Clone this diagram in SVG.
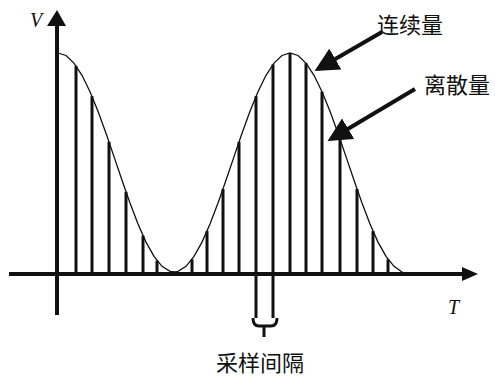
<svg xmlns="http://www.w3.org/2000/svg" width="495" height="378" viewBox="0 0 495 378">
<style>
.ax{stroke:#111;stroke-width:4;fill:none}
.s{stroke:#111;stroke-width:3;fill:none}
.c{stroke:#111;stroke-width:1.3;fill:none}
.ar{stroke:#111;stroke-width:4;fill:none}
.lbl{font-family:"Liberation Serif","Noto Sans CJK SC",serif;font-size:22px;fill:#111}
.it{font-family:"Liberation Serif",serif;font-style:italic;font-size:20px;fill:#111}
</style>
<defs>
<marker id="ah" markerWidth="6" markerHeight="6" refX="5" refY="3" orient="auto" markerUnits="strokeWidth">
<path d="M0,0 L6,3 L0,6 Z" fill="#111"/>
</marker>
</defs>
<rect width="495" height="378" fill="#fff"/>
<g id="axes">
<line class="ax" x1="57" y1="315" x2="57" y2="24" stroke-width="5"/>
<path d="M47,26 L57,10 L66,26 Z" fill="#111"/>
<line class="ax" x1="9" y1="274" x2="464" y2="274"/>
<path d="M462,267 L478,274 L462,281 Z" fill="#111"/>
</g>
<g id="samples">
<line class="s" x1="76" y1="65.7" x2="76" y2="274"/>
<line class="s" x1="92" y1="96.2" x2="92" y2="274"/>
<line class="s" x1="109" y1="141.8" x2="109" y2="274"/>
<line class="s" x1="126" y1="191.8" x2="126" y2="274"/>
<line class="s" x1="143" y1="235.6" x2="143" y2="274"/>
<line class="s" x1="157" y1="260.6" x2="157" y2="274"/>
<line class="s" x1="192" y1="259.3" x2="192" y2="274"/>
<line class="s" x1="207" y1="231.1" x2="207" y2="274"/>
<line class="s" x1="223" y1="189" x2="223" y2="274"/>
<line class="s" x1="239" y1="141.8" x2="239" y2="274"/>
<line class="s" x1="256" y1="96.2" x2="256" y2="318"/>
<line class="s" x1="273" y1="64.4" x2="273" y2="318"/>
<line class="s" x1="290" y1="53" x2="290" y2="274"/>
<line class="s" x1="306" y1="63.1" x2="306" y2="274"/>
<line class="s" x1="322" y1="91.7" x2="322" y2="274"/>
<line class="s" x1="340" y1="139" x2="340" y2="274"/>
<line class="s" x1="357" y1="189" x2="357" y2="274"/>
<line class="s" x1="373" y1="231.1" x2="373" y2="274"/>
<line class="s" x1="388" y1="259.3" x2="388" y2="274"/>
</g>
<g id="curve">
<polyline class="c" points="58,53 66,55.5 74,63.1 82,75.3 90,91.7 98,111.3 106,133.2 114,156.6 122,180.2 130,203 138,223.9 146,242.1 154,256.4 162,266.3 170,271.4 175,272 178,271.4 186,266.3 194,256.4 202,242.1 210,223.9 218,203 226,180.2 234,156.6 242,133.2 250,111.3 258,91.7 266,75.3 274,63.1 282,55.5 290,53 298,55.5 306,63.1 314,75.3 322,91.7 330,111.3 338,133.2 346,156.6 354,180.2 362,203 370,223.9 378,242.1 386,256.4 394,266.3 402,272 406,274"/>
</g>
<g id="interval">
<path class="s" d="M253,318 Q253,326 259,326 L271,326 Q277,326 277,318" stroke-width="2.5"/>
<line class="s" x1="264" y1="326" x2="264" y2="337" stroke-width="2.5"/>
</g>
<g id="connectors">
<line class="ar" x1="382" y1="32" x2="318" y2="69" marker-end="url(#ah)"/>
<line class="ar" x1="415" y1="89" x2="331" y2="139" marker-end="url(#ah)"/>
</g>
<g id="labels">
<text class="it" x="30" y="27">V</text>
<text class="it" x="448" y="314">T</text>
<text class="lbl" x="377" y="33">连续量</text>
<text class="lbl" x="424" y="93">离散量</text>
<text class="lbl" x="216" y="371">采样间隔</text>
</g>
</svg>
